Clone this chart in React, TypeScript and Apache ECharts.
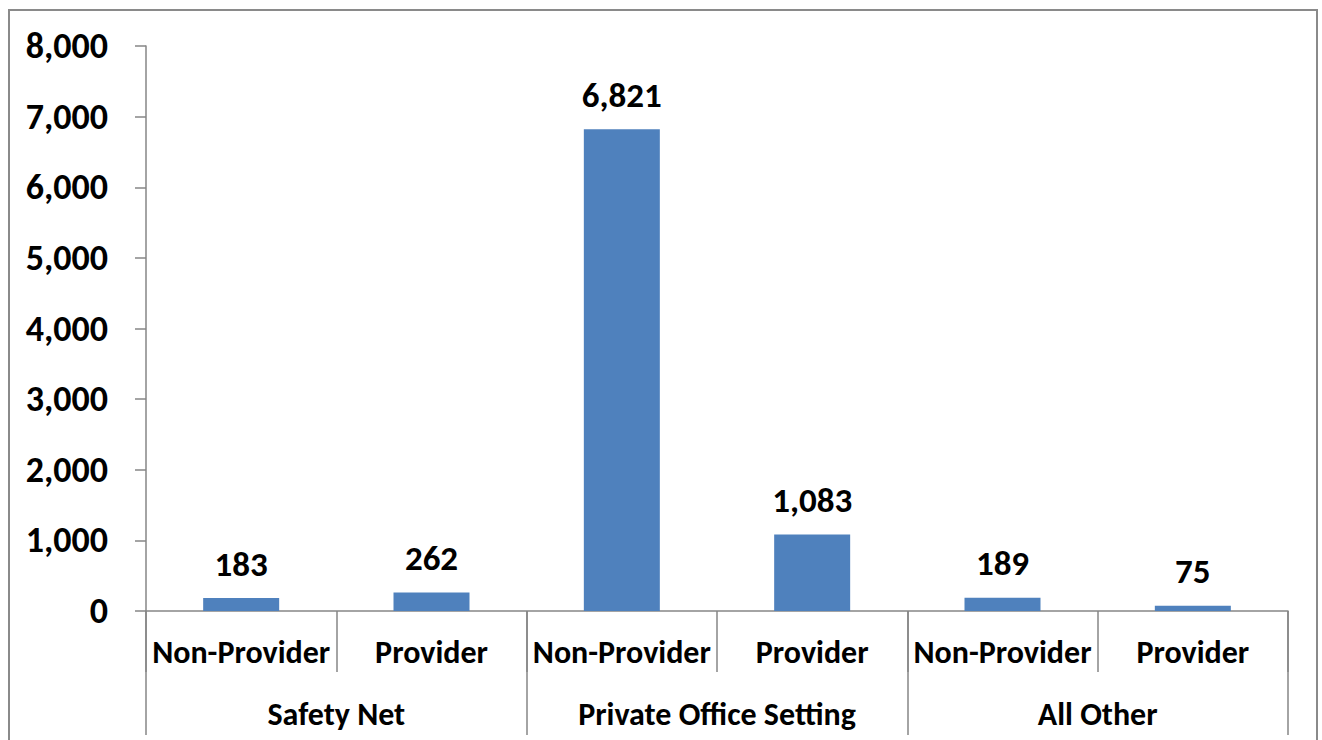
import React, { useEffect, useRef } from "react";
import * as echarts from "echarts";

const subCategories = ["Non-Provider", "Provider", "Non-Provider", "Provider", "Non-Provider", "Provider"];
const groups = ["Safety Net", "Private Office Setting", "All Other"];
const values = [183, 262, 6821, 1083, 189, 75];
const yMax = 8000;
const yInterval = 1000;

const FONT = "Carlito, Lato, 'Open Sans', sans-serif";
const AXIS_GRAY = "#868686";

export default function App() {
  const ref = useRef<HTMLDivElement>(null);
  useEffect(() => {
    if (!ref.current) return;
    const chart = echarts.init(ref.current, undefined, { renderer: "svg" });
    chart.setOption({
      animation: false,
      graphic: [
        {
          type: "rect",
          shape: { x: 9, y: 10, width: 1308, height: 800 },
          style: { fill: "none", stroke: "#8a8a8a", lineWidth: 2 },
          silent: true,
        },
      ],
      grid: { left: 146, right: 34, top: 46, bottom: 129, containLabel: false },
      yAxis: {
        type: "value",
        min: 0,
        max: yMax,
        interval: yInterval,
        splitLine: { show: false },
        axisLine: { show: true, lineStyle: { color: AXIS_GRAY, width: 1.5 } },
        axisTick: { show: true, length: 11, lineStyle: { color: AXIS_GRAY, width: 1.5 } },
        axisLabel: {
          margin: 38,
          color: "#000",
          fontFamily: FONT,
          fontWeight: "bold",
          fontSize: 36,
          formatter: (v: number) => v.toLocaleString("en-US"),
        },
      },
      xAxis: [
        {
          type: "category",
          data: subCategories,
          position: "bottom",
          axisLine: { show: true, lineStyle: { color: AXIS_GRAY, width: 1.5 } },
          axisTick: { show: true, length: 61, interval: 0, alignWithLabel: false, lineStyle: { color: AXIS_GRAY, width: 1.5 } },
          axisLabel: {
            interval: 0,
            margin: 41,
            verticalAlign: "middle",
            color: "#000",
            fontFamily: FONT,
            fontWeight: "bold",
            fontSize: 32,
          },
        },
        {
          type: "category",
          data: groups,
          position: "bottom",
          axisLine: { show: false },
          axisTick: { show: true, length: 124, interval: 0, alignWithLabel: false, lineStyle: { color: AXIS_GRAY, width: 1.5 } },
          axisLabel: {
            interval: 0,
            margin: 103,
            verticalAlign: "middle",
            color: "#000",
            fontFamily: FONT,
            fontWeight: "bold",
            fontSize: 32,
          },
        },
      ],
      series: [
        {
          type: "bar",
          xAxisIndex: 0,
          data: values,
          barWidth: 76,
          itemStyle: { color: "#4F81BD" },
          label: {
            show: true,
            position: "top",
            distance: 17,
            color: "#000",
            fontFamily: FONT,
            fontWeight: "bold",
            fontSize: 35,
            formatter: (p: any) => Number(p.value).toLocaleString("en-US"),
          },
        },
      ],
    });
    return () => chart.dispose();
  }, []);
  return (
    <div
      ref={ref}
      style={{ position: "absolute", left: 0, top: 0, width: 1322, height: 740, background: "#fff" }}
    />
  );
}
